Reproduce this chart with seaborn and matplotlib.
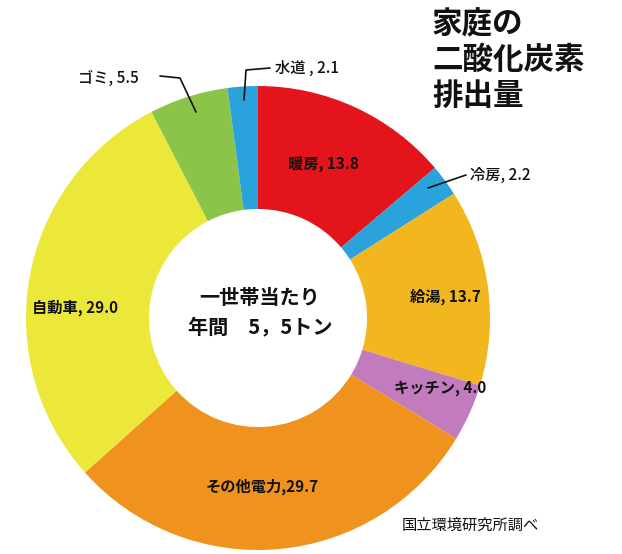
import matplotlib
matplotlib.use("Agg")
import matplotlib.pyplot as plt
import seaborn as sns

categories = ["暖房", "冷房", "給湯", "キッチン", "その他電力", "自動車", "ゴミ", "水道"]
values = [13.8, 2.2, 13.7, 4.0, 29.7, 29.0, 5.5, 2.1]
label_texts = ["暖房, 13.8", "冷房, 2.2", "給湯, 13.7", "キッチン, 4.0", "その他電力,29.7", "自動車, 29.0", "ゴミ, 5.5", "水道 , 2.1"]
colors = ["#e3141c", "#2aa3dc", "#f2b61e", "#c27bbc", "#f0931e", "#ebe83a", "#8cc44a", "#2aa3dc"]

sns.set_theme(style="white")
plt.rcParams['font.family'] = ['Noto Sans CJK JP', 'DejaVu Sans']

fig = plt.figure(figsize=(6.22, 5.54), dpi=100)
ax = fig.add_axes([26/622, 4/554, 464/622, 464/554])
ax.pie(values, colors=sns.color_palette(colors), startangle=90, counterclock=False,
       radius=1, wedgeprops=dict(width=0.53, edgecolor="none"))
ax.set_xlim(-1, 1); ax.set_ylim(-1, 1); ax.set_aspect("equal"); ax.axis("off")

def d(px, py):
    return ((px - 258) / 232, (318 - py) / 232)

fs = 11
inside = {0: (323, 165), 2: (445, 297), 3: (440, 388), 4: (262, 487), 5: (75, 308)}
for i, (px, py) in inside.items():
    ax.text(*d(px, py), label_texts[i], ha="center", va="center", fontsize=fs, fontweight="bold", color="#111")

# outside labels with leader lines
ax.text(*d(470, 175), label_texts[1], ha="left", va="center", fontsize=fs, color="#111", fontweight="medium")
ax.plot(*zip(d(428, 188), d(466, 175)), color="#111", lw=1.2, clip_on=False)
ax.text(*d(78, 78), label_texts[6], ha="left", va="center", fontsize=fs, color="#111", fontweight="medium")
ax.plot(*zip(d(160, 76), d(180, 78), d(196, 112)), color="#111", lw=1.2, clip_on=False)
ax.text(*d(275, 68), label_texts[7], ha="left", va="center", fontsize=fs, color="#111", fontweight="medium")
ax.plot(*zip(d(270, 68), d(246, 70), d(244, 100)), color="#111", lw=1.2, clip_on=False)

ax.text(*d(260, 312), "一世帯当たり\n年間　5，5トン", ha="center", va="center", fontsize=14.5,
        fontweight="bold", linespacing=1.5, color="#111")

fig.text(432/622, 1 - 8/554, "家庭の\n二酸化炭素\n排出量", ha="left", va="top", fontsize=22,
         fontweight="bold", linespacing=1.15, color="#111")
fig.text(470/622, 1 - 525/554, "国立環境研究所調べ", ha="center", va="center", fontsize=11, color="#111")

fig.savefig("out.png", dpi=100)
